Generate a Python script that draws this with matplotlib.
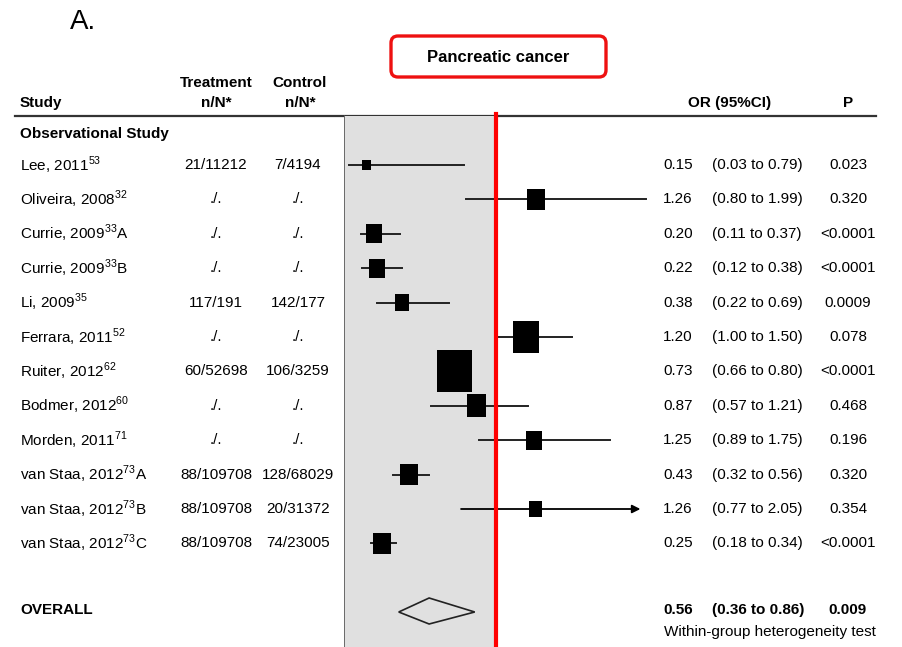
#forest plot: metformin vs control, pancreatic cancer
import numpy as np
import matplotlib.pyplot as plt
from matplotlib.patches import Rectangle, FancyBboxPatch, Polygon

plt.rcParams['font.family'] = ['Liberation Sans', 'DejaVu Sans']
plt.rcParams['mathtext.fontset'] = 'custom'
plt.rcParams['mathtext.rm'] = 'Liberation Sans'

#study data
studies = ['Lee, 2011$^{53}$', 'Oliveira, 2008$^{32}$', 'Currie, 2009$^{33}$A',
           'Currie, 2009$^{33}$B', 'Li, 2009$^{35}$', 'Ferrara, 2011$^{52}$',
           'Ruiter, 2012$^{62}$', 'Bodmer, 2012$^{60}$', 'Morden, 2011$^{71}$',
           'van Staa, 2012$^{73}$A', 'van Staa, 2012$^{73}$B', 'van Staa, 2012$^{73}$C']
treat = ['21/11212', './.', './.', './.', '117/191', './.', '60/52698', './.', './.',
         '88/109708', '88/109708', '88/109708']
ctrl = ['7/4194', './.', './.', './.', '142/177', './.', '106/3259', './.', './.',
        '128/68029', '20/31372', '74/23005']
OR = [0.15, 1.26, 0.20, 0.22, 0.38, 1.20, 0.73, 0.87, 1.25, 0.43, 1.26, 0.25]
lo = [0.03, 0.80, 0.11, 0.12, 0.22, 1.00, 0.66, 0.57, 0.89, 0.32, 0.77, 0.18]
hi = [0.79, 1.99, 0.37, 0.38, 0.69, 1.50, 0.80, 1.21, 1.75, 0.56, 2.05, 0.34]
pval = ['0.023', '0.320', '<0.0001', '<0.0001', '0.0009', '0.078', '<0.0001',
        '0.468', '0.196', '0.320', '0.354', '<0.0001']
#box widths (px), roughly study weight
box = [9, 18, 16, 16, 14, 26, 35, 19, 16, 18, 13, 18]

ov_or, ov_lo, ov_hi, ov_p = 0.56, 0.36, 0.86, '0.009'

W, H = 903, 647
fig = plt.figure(figsize=(W/100., H/100.), dpi=100)
ax = fig.add_axes([0, 0, 1, 1])
ax.set_xlim(0, W)
ax.set_ylim(H, 0)
ax.axis('off')

#forest panel, linear OR scale
x0, x1 = 344, 660
pxu = 152.
fx = fig.add_axes([x0/W, 0, (x1-x0)/W, 1])
fx.set_xlim(0, (x1-x0)/pxu)
fx.set_ylim(H, 0)
fx.axis('off')
fx.patch.set_alpha(0)

fs = 11
y0, dy = 165, 34.4
rows = y0 + dy*np.arange(len(studies))

ax.text(70, 22, 'A.', fontsize=20, va='center', ha='left')
ax.add_patch(FancyBboxPatch((391, 36), 215, 41, boxstyle='round,pad=0,rounding_size=7',
                            fc='white', ec='#ee1111', lw=2.4))
ax.text(498, 57, 'Pancreatic cancer', fontsize=12, weight='bold', ha='center', va='center')

#header
ax.text(20, 103, 'Study', fontsize=fs, weight='bold', va='center')
ax.text(216, 83, 'Treatment', fontsize=fs, weight='bold', ha='center', va='center')
ax.text(216, 103, 'n/N*', fontsize=fs, weight='bold', ha='center', va='center')
ax.text(300, 83, 'Control', fontsize=fs, weight='bold', ha='center', va='center')
ax.text(300, 103, 'n/N*', fontsize=fs, weight='bold', ha='center', va='center')
ax.text(730, 103, 'OR (95%CI)', fontsize=fs, weight='bold', ha='center', va='center')
ax.text(848, 103, 'P', fontsize=fs, weight='bold', ha='center', va='center')
ax.plot([15, 876], [116, 116], color='#333333', lw=1.6)
ax.text(20, 134, 'Observational Study', fontsize=fs, weight='bold', va='center')

#shaded region OR<1
fx.add_patch(Rectangle((0, 116), 1, H-116, fc='#e0e0e0', ec='none', zorder=0))
fx.plot([0, 0], [116, H], color='#555555', lw=1.2, zorder=1)
fx.axvline(1, ymin=0, ymax=1-114/H, color='red', lw=3, zorder=5)

#CIs past 2.0 are cut with an arrow
xcut, xarr = 2.0, 1.95
for i in range(len(studies)):
    y = rows[i]
    ax.text(20, y, studies[i], fontsize=fs, va='center')
    ax.text(216, y, treat[i], fontsize=fs, ha='center', va='center')
    ax.text(298, y, ctrl[i], fontsize=fs, ha='center', va='center')
    ax.text(693, y, '%.2f' % OR[i], fontsize=fs, ha='right', va='center')
    ax.text(712, y, '(%.2f to %.2f)' % (lo[i], hi[i]), fontsize=fs, ha='left', va='center')
    ax.text(848, y, pval[i], fontsize=fs, ha='center', va='center')
    if hi[i] > xcut:
        fx.annotate('', xy=(xarr, y), xytext=(lo[i], y),
                    arrowprops=dict(arrowstyle='-|>', color='black', lw=1.3,
                                    mutation_scale=12, shrinkA=0, shrinkB=0), zorder=3)
    else:
        fx.plot([lo[i], hi[i]], [y, y], color='#222222', lw=1.4, zorder=3)
    w = box[i]/pxu
    h = box[i]*1.2
    fx.add_patch(Rectangle((OR[i]-w/2, y-h/2), w, h, fc='black', ec='none', zorder=4))

#overall
yo = 610
ax.text(20, yo, 'OVERALL', fontsize=fs, weight='bold', va='center')
ax.text(693, yo, '%.2f' % ov_or, fontsize=fs, weight='bold', ha='right', va='center')
ax.text(712, yo, '(%.2f to %.2f)' % (ov_lo, ov_hi), fontsize=fs, weight='bold',
        ha='left', va='center')
ax.text(848, yo, ov_p, fontsize=fs, weight='bold', ha='center', va='center')
ax.text(664, 632, 'Within-group heterogeneity test', fontsize=fs, va='center')
fx.add_patch(Polygon([[ov_lo, yo+2], [ov_or, yo-12], [ov_hi, yo+2], [ov_or, yo+14]],
                     closed=True, fc='none', ec='#222222', lw=1.2, zorder=3))

fig.savefig('out.png', dpi=100)
